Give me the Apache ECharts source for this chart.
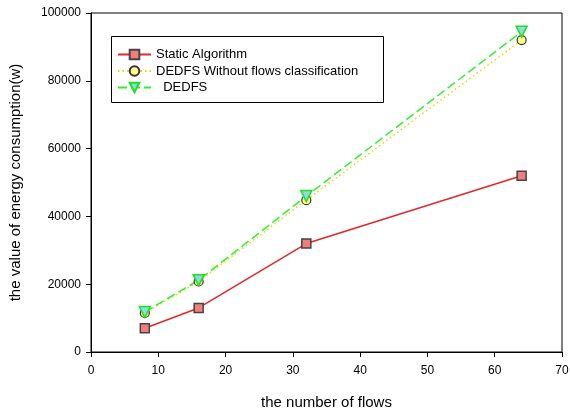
<!DOCTYPE html>
<html>
<head>
<meta charset="utf-8">
<script src="https://cdn.jsdelivr.net/npm/echarts@6/dist/echarts.min.js"></script>
<style>
  html, body { margin: 0; padding: 0; background: #fff; }
  #chart { width: 570px; height: 413px; }
</style>
</head>
<body>
<div id="chart"></div>
<script>
const flows = [8, 16, 32, 64];
const staticAlgorithm = [7000, 13000, 32000, 52000];
const withoutClassification = [11500, 20800, 44800, 92000];
const dedfs = [11800, 21200, 46000, 94500];

const font = 'Arial, "Liberation Sans", sans-serif';
const pairs = (ys) => flows.map((x, i) => [x, ys[i]]);

const chart = echarts.init(document.getElementById('chart'), null, { renderer: 'canvas' });

chart.setOption({
  backgroundColor: '#fff',
  animation: false,
  grid: {
    left: 91, right: 8, top: 13, bottom: 61,
    outerBoundsMode: 'none', // keep the plot box exactly where it is
    show: true, borderColor: '#000', borderWidth: 1
  },
  // legend frame drawn separately so its size matches the original box
  graphic: [{
    type: 'rect', left: 111, top: 36, z: 0,
    shape: { width: 272, height: 66 },
    style: { fill: '#fff', stroke: '#000', lineWidth: 1 }
  }],
  legend: {
    left: 117, top: 48,
    orient: 'vertical',
    padding: 0,
    itemGap: 3.5,
    itemWidth: 33, itemHeight: 12,
    textStyle: { fontFamily: font, fontSize: 13, color: '#000' },
    formatter: (name) => name === 'DEDFS' ? '  DEDFS' : name,
    z: 10,
    data: ['Static Algorithm', 'DEDFS Without flows classification', 'DEDFS']
  },
  xAxis: {
    type: 'value', min: 0, max: 70, interval: 10,
    name: 'the number of flows', nameLocation: 'middle', nameGap: 43,
    nameTextStyle: { fontFamily: font, fontSize: 15, color: '#000' },
    axisLine: { lineStyle: { color: '#000' } },
    axisTick: { inside: false, length: 5, lineStyle: { color: '#000' } },
    axisLabel: { fontFamily: font, fontSize: 12, color: '#000', margin: 13 },
    splitLine: { show: false }
  },
  yAxis: {
    type: 'value', min: 0, max: 100000, interval: 20000,
    name: 'the value of energy consumption(w)', nameLocation: 'middle', nameGap: 68,
    nameTextStyle: { fontFamily: font, fontSize: 15, color: '#000' },
    axisLine: { show: true, lineStyle: { color: '#000' } },
    axisTick: { show: true, inside: false, length: 5, lineStyle: { color: '#000' } },
    axisLabel: { fontFamily: font, fontSize: 12, color: '#000', margin: 10, formatter: (v) => String(v) },
    splitLine: { show: false }
  },
  series: [
    {
      name: 'Static Algorithm', type: 'line', data: pairs(staticAlgorithm),
      symbol: 'rect', symbolSize: 9,
      lineStyle: { color: '#e02828', width: 1.5 },
      itemStyle: { color: '#f47c7c', borderColor: '#444', borderWidth: 1.5 }
    },
    {
      name: 'DEDFS Without flows classification', type: 'line', data: pairs(withoutClassification),
      symbol: 'circle', symbolSize: 9,
      lineStyle: { color: '#e8d800', width: 1.5, type: [1.5, 3] },
      itemStyle: { color: '#ffff88', borderColor: '#333', borderWidth: 1.2 }
    },
    {
      name: 'DEDFS', type: 'line', data: pairs(dedfs),
      symbol: 'triangle', symbolRotate: 180, symbolSize: 11,
      lineStyle: { color: '#33ee33', width: 1.5, type: [9, 4] },
      itemStyle: { color: '#88dddd', borderColor: '#22dd22', borderWidth: 1.5 }
    }
  ]
});
</script>
</body>
</html>
